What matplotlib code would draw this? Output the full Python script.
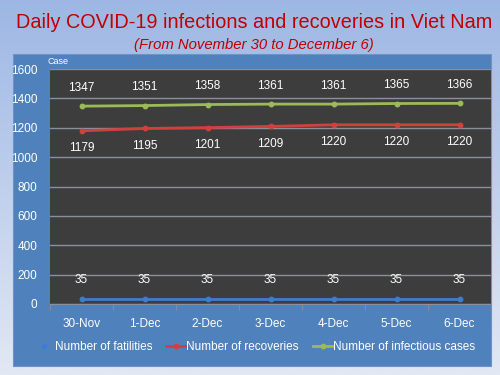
import matplotlib
matplotlib.use("Agg")
import matplotlib.pyplot as plt
import numpy as np
from matplotlib.lines import Line2D
from matplotlib.patches import Rectangle

dates = ["30-Nov", "1-Dec", "2-Dec", "3-Dec", "4-Dec", "5-Dec", "6-Dec"]
fatalities = [35, 35, 35, 35, 35, 35, 35]
recoveries = [1179, 1195, 1201, 1209, 1220, 1220, 1220]
infectious = [1347, 1351, 1358, 1361, 1361, 1365, 1366]
yticks = [0, 200, 400, 600, 800, 1000, 1200, 1400, 1600]

plt.rcParams['font.family'] = ['Liberation Sans', 'DejaVu Sans']

fig = plt.figure(figsize=(5, 3.75), dpi=100)

# gradient background
bg = fig.add_axes([0, 0, 1, 1], zorder=-10)
grad = np.linspace(0, 1, 256).reshape(-1, 1)
top = np.array([157, 183, 228]) / 255
bot = np.array([226, 232, 244]) / 255
img = top + (bot - top) * grad[:, :, None] * np.ones((1, 1, 3))
img = img.reshape(256, 1, 3)
bg.imshow(img, aspect='auto', extent=[0, 1, 0, 1], origin='upper')
bg.set_xlim(0, 1); bg.set_ylim(0, 1)
bg.axis('off')
bg.add_patch(Rectangle((13/500, 9/375), 478/500, 312/375, facecolor='#4f81bd',
                       edgecolor='#6f93c6', lw=0.8, transform=bg.transAxes))

fig.text(0.508, 0.940, "Daily COVID-19 infections and recoveries in Viet Nam",
         color='#c00000', fontsize=14.3, ha='center', va='center')
fig.text(0.507, 0.879, "(From November 30 to December 6)", color='#c00000',
         fontsize=10.7, style='italic', ha='center', va='center')

ax = fig.add_axes([50/500, 71/375, 441/500, 235/375])
ax.set_facecolor('#3d3d3d')
x = np.arange(len(dates))
ax.set_xlim(-0.5, len(dates) - 0.5)
ax.set_ylim(0, 1600)
ax.set_yticks(yticks)
ax.yaxis.grid(True, color='#8a8f9c', lw=1)
ax.set_axisbelow(True)
for s in ['top', 'right', 'left']:
    ax.spines[s].set_visible(False)
ax.spines['bottom'].set_color('#8a8f9c')
ax.tick_params(axis='y', length=0, colors='white', labelsize=8.5, pad=9)
ax.set_xticks(x)
ax.set_xticklabels(dates)
ax.tick_params(axis='x', length=0, colors='white', labelsize=8.5, pad=10)
ax.set_xticks(np.arange(len(dates) + 1) - 0.5, minor=True)
ax.tick_params(axis='x', which='minor', length=4, color='#8a8f9c')

c_f, c_r, c_i = '#3f7ad6', '#d0413e', '#9bbb59'
ax.plot(x, fatalities, color=c_f, lw=2.0, marker='o', ms=3.2)
ax.plot(x, recoveries, color=c_r, lw=2.0, marker='o', ms=3.2)
ax.plot(x, infectious, color=c_i, lw=2.0, marker='o', ms=3.2)

for xi, v in zip(x, fatalities):
    ax.annotate(str(v), (xi, v), xytext=(0, 9), textcoords='offset points',
                ha='center', va='bottom', color='white', fontsize=8.5)
for xi, v in zip(x, recoveries):
    ax.annotate(str(v), (xi, v), xytext=(0, -8), textcoords='offset points',
                ha='center', va='top', color='white', fontsize=8.5)
for xi, v in zip(x, infectious):
    ax.annotate(str(v), (xi, v), xytext=(0, 9), textcoords='offset points',
                ha='center', va='bottom', color='white', fontsize=8.5)

fig.text(47/500, 1 - 62/375, "Case", color='white', fontsize=6.5, ha='left', va='center')

handles = [Line2D([], [], color=c_f, lw=0, marker='o', ms=3),
           Line2D([], [], color=c_r, lw=2.0, marker='o', ms=3.2),
           Line2D([], [], color=c_i, lw=2.0, marker='o', ms=3.2)]
labels = ["Number of fatilities", "Number of recoveries", "Number of infectious cases"]
leg = fig.legend(handles, labels, loc='center', bbox_to_anchor=(0.51, 1 - 347/375),
                 ncol=3, frameon=False, fontsize=8.5, handlelength=1.6,
                 handletextpad=0.1, columnspacing=1.2, labelcolor='white')

fig.savefig("out.png", dpi=100)
